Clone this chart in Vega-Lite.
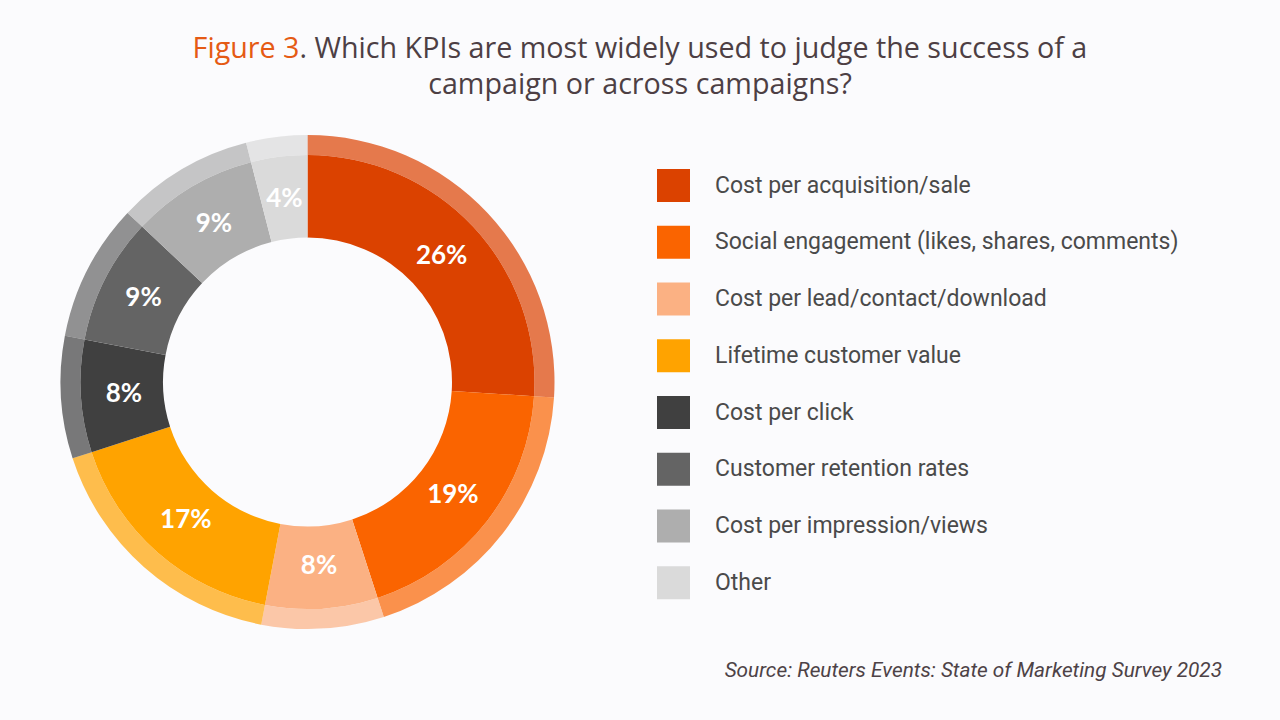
{
  "$schema": "https://vega.github.io/schema/vega-lite/v6.json",
  "width": 615,
  "height": 676,
  "autosize": "none",
  "padding": {"left": 0, "top": 44, "right": 665, "bottom": 0},
  "background": "#fbfbfd",
  "config": {
    "view": {"stroke": null},
    "legend": {
      "orient": "none",
      "legendX": 657,
      "legendY": 125,
      "padding": 0,
      "symbolType": "square",
      "symbolSize": 1089,
      "symbolStrokeWidth": 0,
      "symbolOpacity": 1,
      "labelFont": "Roboto",
      "labelFontSize": 23,
      "labelColor": "#4a4a4a",
      "labelOffset": 25,
      "labelLimit": 700,
      "rowPadding": 23.75,
      "title": null
    }
  },
  "datasets": {
    "kpi": [
      {"idx": 1, "kpi": "Cost per acquisition/sale", "share": 0.26},
      {"idx": 2, "kpi": "Social engagement (likes, shares, comments)", "share": 0.19},
      {"idx": 3, "kpi": "Cost per lead/contact/download", "share": 0.08},
      {"idx": 4, "kpi": "Lifetime customer value", "share": 0.17},
      {"idx": 5, "kpi": "Cost per click", "share": 0.08},
      {"idx": 6, "kpi": "Customer retention rates", "share": 0.09},
      {"idx": 7, "kpi": "Cost per impression/views", "share": 0.09},
      {"idx": 8, "kpi": "Other", "share": 0.04}
    ]
  },
  "layer": [
    {
      "data": {"name": "kpi"},
      "mark": {"type": "arc", "radius": 227, "radius2": 144.5, "stroke": null},
      "encoding": {
        "theta": {"field": "share", "type": "quantitative", "stack": true},
        "order": {"field": "idx", "type": "quantitative"},
        "color": {
          "field": "kpi",
          "type": "nominal",
          "scale": {
            "domain": ["Cost per acquisition/sale", "Social engagement (likes, shares, comments)", "Cost per lead/contact/download", "Lifetime customer value", "Cost per click", "Customer retention rates", "Cost per impression/views", "Other"],
            "range": ["#db4200", "#fa6400", "#fbb183", "#ffa300", "#404040", "#646464", "#aeaeae", "#dadada"]
          }
        }
      }
    },
    {
      "data": {"name": "kpi"},
      "mark": {"type": "arc", "radius": 247, "radius2": 227, "stroke": null, "fillOpacity": 0.7},
      "encoding": {
        "theta": {"field": "share", "type": "quantitative", "stack": true},
        "order": {"field": "idx", "type": "quantitative"},
        "color": {"field": "kpi", "type": "nominal"}
      }
    },
    {
      "data": {"name": "kpi"},
      "mark": {"type": "text", "radius": 184, "font": "Lato", "fontWeight": "bold", "fontSize": 26, "fill": "#ffffff", "align": "center", "baseline": "middle"},
      "encoding": {
        "theta": {"field": "share", "type": "quantitative", "stack": true},
        "order": {"field": "idx", "type": "quantitative"},
        "text": {"field": "share", "type": "quantitative", "format": ".0%"}
      }
    },
    {
      "data": {"values": [{}]},
      "mark": {"type": "text", "text": "Figure 3", "x": 299.5, "y": 14, "align": "right", "baseline": "alphabetic", "font": "Open Sans", "fontSize": 28.7, "fill": "#e55a14"},
      "encoding": {}
    },
    {
      "data": {"values": [{}]},
      "mark": {"type": "text", "text": ". Which KPIs are most widely used to judge the success of a", "x": 299.5, "y": 14, "align": "left", "baseline": "alphabetic", "font": "Open Sans", "fontSize": 28.7, "fill": "#4d3f44"},
      "encoding": {}
    },
    {
      "data": {"values": [{}]},
      "mark": {"type": "text", "text": "campaign or across campaigns?", "x": 640, "y": 49.5, "align": "center", "baseline": "alphabetic", "font": "Open Sans", "fontSize": 28.7, "fill": "#4d3f44"},
      "encoding": {}
    },
    {
      "data": {"values": [{}]},
      "mark": {"type": "text", "text": "Source: Reuters Events: State of Marketing Survey 2023", "x": 1222, "y": 633, "align": "right", "baseline": "alphabetic", "font": "Roboto", "fontStyle": "italic", "fontSize": 20.8, "fill": "#4d4246"},
      "encoding": {}
    }
  ]
}
